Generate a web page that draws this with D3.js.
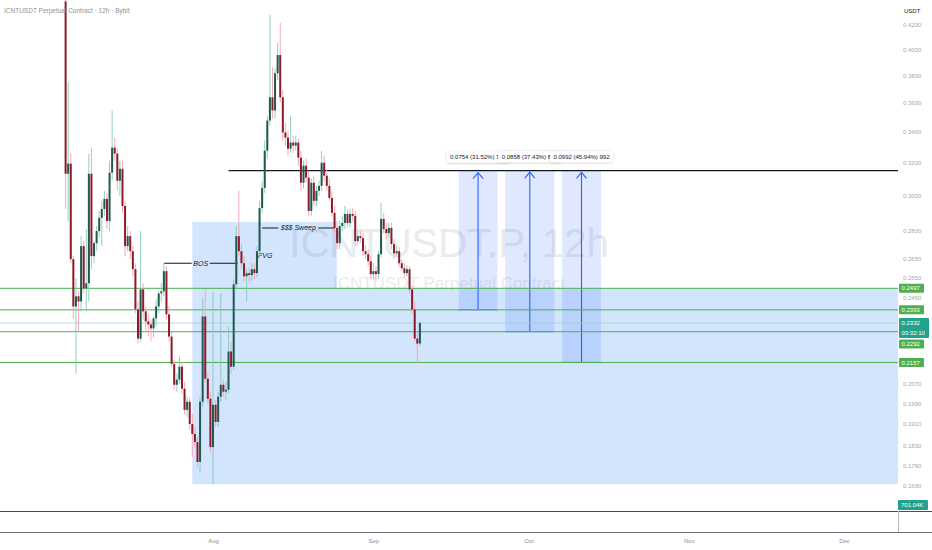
<!DOCTYPE html>
<html lang="en">
<head>
<meta charset="UTF-8">
<title>ICNTUSDT.P 12h</title>
<style>
  body { margin: 0; background: #fff; }
  svg { display: block; font-family: "Liberation Sans", Arial, sans-serif; }
</style>
</head>
<body>
<svg id="chart" width="932" height="550"></svg>
<script src="https://d3js.org/d3.v7.min.js"></script>
<script>
// 12h candles, first one opens 2025-07-03 12:00 UTC, one per half day
const firstCandle = "2025-07-03T12:00:00Z";

const opens = [
  .4400, .3131, .3194, .2645, .2409, .2458, .2433, .2714, .2497, .2522,
  .3131, .2661, .2730, .2796, .2870, .2921, .2979, .2852, .3138, .3297,
  .3258, .3088, .3162, .2938, .2714, .2768, .2687, .2593, .2395, .2261,
  .2492, .2386, .2339, .2325, .2307, .2353, .2409, .2472, .2482, .2583,
  .2372, .2270, .2151, .2064, .2085, .2139, .2048, .1964, .1996, .1910,
  .1873, .1843, .1772, .1996, .2362, .2089, .2008, .1825, .1984, .1918,
  .2016, .2064, .2036, .2044, .2204, .2139, .2517, .2768, .2687, .2624,
  .2557, .2573, .2563, .2593, .2573, .2687, .2926, .3045, .3277, .3478,
  .3641, .3548, .3818, .3958, .3641, .3397, .3363, .3290, .3330, .3310,
  .3330, .3232, .3076, .3181, .3107, .2909, .3076, .2968, .3027, .3057,
  .3200, .3119, .3057, .2985, .2898, .2813, .2730, .2824, .2841, .2892,
  .2841, .2892, .2881, .2741, .2768, .2757, .2687, .2671, .2634, .2568,
  .2583, .2568, .2671, .2864, .2807, .2785, .2813, .2725, .2676, .2687,
  .2624, .2598, .2573, .2593, .2492, .2395, .2261, .2239
];
const highs = [
  .4650, .3751, .3258, .2661, .2547, .2482, .2768, .2741, .2807, .3258,
  .3297, .2741, .2824, .2909, .2968, .3027, .3015, .3213, .3548, .3363,
  .3290, .3213, .3213, .2968, .2824, .2796, .2714, .2624, .2433, .2796,
  .2522, .2409, .2377, .2348, .2362, .2443, .2482, .2522, .2624, .2608,
  .2409, .2293, .2169, .2110, .2182, .2160, .2076, .2016, .2012, .1948,
  .1899, .1862, .2016, .2448, .2492, .2118, .2036, .2482, .2004, .2036,
  .2472, .2085, .2076, .2316, .2248, .2542, .2824, .3027, .2725, .2661,
  .2593, .2603, .2624, .2624, .2714, .2968, .3088, .3343, .3513, .4284,
  .3865, .3857, .4053, .4217, .3692, .3464, .3410, .3513, .3376, .3376,
  .3356, .3277, .3213, .3226, .3150, .3101, .3119, .3057, .3088, .3277,
  .3245, .3162, .3101, .3027, .2938, .2852, .2852, .2881, .2938, .2921,
  .2921, .2926, .2909, .2807, .2796, .2785, .2719, .2698, .2661, .2624,
  .2608, .2687, .2956, .2898, .2841, .2841, .2841, .2752, .2719, .2709,
  .2645, .2624, .2613, .2608, .2512, .2433, .2293, .2339
];
const lows = [
  .2921, .2852, .2624, .2353, .2110, .2293, .2386, .2472, .2386, .2433,
  .2593, .2624, .2687, .2763, .2714, .2881, .2807, .2796, .3088, .3213,
  .3027, .2997, .2898, .2661, .2687, .2645, .2557, .2377, .2239, .2248,
  .2348, .2293, .2270, .2248, .2266, .2316, .2377, .2433, .2458, .2348,
  .2248, .2139, .2044, .2036, .2068, .2028, .1948, .1937, .1888, .1789,
  .1825, .1754, .1737, .1976, .2076, .1988, .1807, .1696, .1899, .1899,
  .1996, .2016, .2004, .2028, .2110, .2126, .2497, .2661, .2593, .2532,
  .2433, .2522, .2532, .2542, .2552, .2661, .2898, .3015, .3226, .3444,
  .3492, .3492, .3766, .3605, .3343, .3310, .3245, .3264, .3264, .3277,
  .3181, .3027, .3039, .3076, .2881, .2881, .2938, .2938, .2997, .3027,
  .3088, .3027, .2968, .2875, .2785, .2698, .2698, .2796, .2807, .2818,
  .2818, .2852, .2714, .2719, .2730, .2661, .2645, .2608, .2542, .2542,
  .2532, .2542, .2656, .2785, .2752, .2763, .2698, .2645, .2656, .2603,
  .2583, .2552, .2557, .2472, .2377, .2248, .2157, .2226
];
const closes = [
  .3131, .3194, .2645, .2409, .2458, .2433, .2714, .2497, .2522, .3131,
  .2661, .2730, .2796, .2870, .2921, .2979, .2852, .3138, .3297, .3258,
  .3088, .3162, .2938, .2714, .2768, .2687, .2593, .2395, .2261, .2492,
  .2386, .2339, .2325, .2307, .2353, .2409, .2472, .2482, .2583, .2372,
  .2270, .2151, .2064, .2085, .2139, .2048, .1964, .1996, .1910, .1873,
  .1843, .1772, .1996, .2362, .2089, .2008, .1825, .1984, .1918, .2016,
  .2064, .2036, .2044, .2204, .2139, .2517, .2768, .2687, .2624, .2557,
  .2573, .2563, .2593, .2573, .2687, .2926, .3045, .3277, .3478, .3641,
  .3548, .3818, .3958, .3641, .3397, .3363, .3290, .3330, .3310, .3330,
  .3232, .3076, .3181, .3107, .2909, .3076, .2968, .3027, .3057, .3200,
  .3119, .3057, .2985, .2898, .2813, .2730, .2824, .2841, .2892, .2841,
  .2892, .2881, .2741, .2768, .2757, .2687, .2671, .2634, .2568, .2583,
  .2568, .2671, .2864, .2807, .2785, .2813, .2725, .2676, .2687, .2624,
  .2598, .2573, .2593, .2492, .2395, .2261, .2239, .2332
];

// price axis and time axis labels
const priceTicks = [0.42, 0.40, 0.38, 0.36, 0.34, 0.32, 0.30, 0.28, 0.265, 0.255, 0.245,
                    0.207, 0.199, 0.191, 0.183, 0.176, 0.169];
const monthTicks = ["2025-08-01", "2025-09-01", "2025-10-01", "2025-11-01", "2025-12-01"];

// horizontal levels (green), last price, volume
const levelPrices = [0.2497, 0.2393, 0.2292, 0.2157];
const lastPrice = 0.2332;
const countdown = "03:32:10";
const lastVolume = "701.04K";

// target line
const targetPrice = 0.315;
const targetStart = "2025-08-04T00:00:00Z";

// blue zone (two parts)
const zoneStarts = ["2025-07-28T00:00:00Z", "2025-08-24T22:00:00Z"];
const zoneEnds = ["2025-08-24T22:00:00Z", "2025-12-20T00:00:00Z"];
const zoneTops = [0.2846, 0.2497];
const zoneBottoms = [0.1696, 0.1696];

// price range measurements
const rangeStarts = ["2025-09-17T12:00:00Z", "2025-09-26T12:00:00Z", "2025-10-07T12:00:00Z"];
const rangeEnds = ["2025-09-25T00:00:00Z", "2025-10-06T00:00:00Z", "2025-10-15T00:00:00Z"];
const rangeLows = [0.2393, 0.2292, 0.2157];
const rangeHighs = [0.3147, 0.3150, 0.3149];
const rangeLabels = ["0.0754 (31.52%) 754", "0.0858 (37.43%) 858", "0.0992 (45.94%) 992"];

// drawn notes
const bosLine = { from: "2025-07-22T12:00:00Z", to: "2025-08-05T18:00:00Z", price: 0.2624, text: "BOS" };
const sweepLine = { from: "2025-08-10T12:00:00Z", to: "2025-08-24T12:00:00Z", price: 0.2813, text: "$$$ Sweep" };
const fvgNote = { at: "2025-08-09T17:00:00Z", price: 0.2666, text: "FVG" };

const plotRight = 898, plotBottom = 511, timeAxisTop = 532;
const upBody = "#1f5a4d", upWick = "#86c9b9", downBody = "#8c1c2c", downWick = "#f3a2b0";

const svg = d3.select("#chart");

const x = d3.scaleUtc()
  .domain([new Date("2025-08-01T00:00:00Z"), new Date("2025-12-01T00:00:00Z")])
  .range([213, 844]);
const y = d3.scaleLog().domain([0.169, 0.42]).range([486, 25]);

const t0 = Date.parse(firstCandle);
const candles = closes.map((c, i) => ({
  t: new Date(t0 + i * 12 * 3600 * 1000), o: opens[i], h: highs[i], l: lows[i], c
}));

const defs = svg.append("defs");
defs.append("clipPath").attr("id", "plotClip")
  .append("rect").attr("x", 0).attr("y", 0).attr("width", plotRight).attr("height", plotBottom);
defs.append("filter").attr("id", "shadow").attr("x", "-20%").attr("y", "-40%").attr("width", "140%").attr("height", "180%")
  .append("feDropShadow").attr("dx", 0).attr("dy", 0.5).attr("stdDeviation", 1)
  .attr("flood-color", "#000").attr("flood-opacity", 0.25);

const plot = svg.append("g").attr("clip-path", "url(#plotClip)");

// watermark
plot.append("text").attr("x", 449).attr("y", 257).attr("text-anchor", "middle")
  .attr("font-size", 40).attr("fill", "#eaebee").text("ICNTUSDT.P, 12h");
plot.append("text").attr("x", 449).attr("y", 289).attr("text-anchor", "middle")
  .attr("font-size", 17).attr("fill", "#eaebee").text("ICNTUSDT Perpetual Contract");

// blue zone
plot.selectAll("rect.zone").data(zoneStarts).join("rect").attr("class", "zone")
  .attr("x", (d, i) => x(new Date(d)))
  .attr("y", (d, i) => y(zoneTops[i]))
  .attr("width", (d, i) => x(new Date(zoneEnds[i])) - x(new Date(d)))
  .attr("height", (d, i) => y(zoneBottoms[i]) - y(zoneTops[i]))
  .attr("fill", "#2178f3").attr("fill-opacity", 0.2);

// price range boxes
const ranges = rangeStarts.map((s, i) => ({
  x0: x(new Date(s)), x1: x(new Date(rangeEnds[i])), lo: rangeLows[i], hi: rangeHighs[i], label: rangeLabels[i]
}));
const rg = plot.selectAll("g.range").data(ranges).join("g").attr("class", "range");
rg.append("rect")
  .attr("x", d => d.x0).attr("y", d => y(d.hi))
  .attr("width", d => d.x1 - d.x0).attr("height", d => y(d.lo) - y(d.hi))
  .attr("fill", "#2962ff").attr("fill-opacity", 0.15);
rg.append("line")
  .attr("x1", d => d.x0).attr("x2", d => d.x1)
  .attr("y1", d => y(d.lo)).attr("y2", d => y(d.lo))
  .attr("stroke", "#2962ff").attr("stroke-opacity", 0.7);
rg.append("line")
  .attr("x1", d => (d.x0 + d.x1) / 2).attr("x2", d => (d.x0 + d.x1) / 2)
  .attr("y1", d => y(d.lo)).attr("y2", d => y(d.hi) + 1.5)
  .attr("stroke", "#2962ff").attr("stroke-width", 1.1);
rg.append("path")
  .attr("d", d => {
    const cx = (d.x0 + d.x1) / 2, ty = y(d.hi) + 1.5;
    return `M${cx - 5},${ty + 6}L${cx},${ty}L${cx + 5},${ty + 6}`;
  })
  .attr("fill", "none").attr("stroke", "#2962ff").attr("stroke-width", 1.1);

// green levels
plot.selectAll("line.level").data(levelPrices).join("line").attr("class", "level")
  .attr("x1", 0).attr("x2", plotRight)
  .attr("y1", d => y(d)).attr("y2", d => y(d))
  .attr("stroke", "#4caf50").attr("stroke-width", 1);

// last price line
plot.append("line").attr("x1", 0).attr("x2", plotRight)
  .attr("y1", y(lastPrice)).attr("y2", y(lastPrice))
  .attr("stroke", "#9fd6cb").attr("stroke-width", 1).attr("stroke-opacity", 0.8);

// target line
plot.append("line").attr("x1", x(new Date(targetStart))).attr("x2", plotRight)
  .attr("y1", y(targetPrice)).attr("y2", y(targetPrice))
  .attr("stroke", "#131722").attr("stroke-width", 1.2);

// BOS and sweep lines with text in the gap
function noteLine(n, gap) {
  const x1 = x(new Date(n.from)), x2 = x(new Date(n.to)), yy = y(n.price), mid = (x1 + x2) / 2;
  plot.append("path").attr("d", `M${x1},${yy}H${mid - gap}M${mid + gap},${yy}H${x2}`)
    .attr("stroke", "#131722").attr("stroke-width", 1.1);
  plot.append("text").attr("x", mid).attr("y", yy).attr("dy", "0.35em")
    .attr("text-anchor", "middle").attr("font-size", 7).attr("font-style", "italic")
    .attr("fill", "#131722").text(n.text);
}
noteLine(bosLine, 9);
noteLine(sweepLine, 20);
plot.append("text").attr("x", x(new Date(fvgNote.at))).attr("y", y(fvgNote.price)).attr("dy", "0.35em")
  .attr("font-size", 7).attr("font-style", "italic").attr("fill", "#131722").text(fvgNote.text);

// candles
const cg = plot.selectAll("g.candle").data(candles).join("g").attr("class", "candle");
cg.append("line")
  .attr("x1", d => x(d.t)).attr("x2", d => x(d.t))
  .attr("y1", d => y(d.h)).attr("y2", d => y(d.l))
  .attr("stroke", d => d.c >= d.o ? upWick : downWick).attr("stroke-width", 0.9);
cg.append("rect")
  .attr("x", d => x(d.t) - 1).attr("width", 2)
  .attr("y", d => y(Math.max(d.o, d.c)))
  .attr("height", d => Math.max(1, Math.abs(y(d.o) - y(d.c))))
  .attr("fill", d => d.c >= d.o ? upBody : downBody);

// price range labels
const lg = plot.selectAll("g.rlabel").data(ranges).join("g").attr("class", "rlabel");
lg.append("rect")
  .attr("x", d => (d.x0 + d.x1) / 2 - 31.5).attr("y", d => y(d.hi) - 19.5)
  .attr("width", 63).attr("height", 11).attr("rx", 2)
  .attr("fill", "#fff").attr("filter", "url(#shadow)");
lg.append("text")
  .attr("x", d => (d.x0 + d.x1) / 2).attr("y", d => y(d.hi) - 14)
  .attr("dy", "0.35em").attr("text-anchor", "middle")
  .attr("font-size", 6).attr("fill", "#131722").text(d => d.label);

// right price axis
svg.append("g").attr("transform", `translate(${plotRight},0)`)
  .call(d3.axisRight(y).tickValues(priceTicks).tickFormat(d3.format(".4f")).tickSize(0).tickPadding(5))
  .attr("font-size", 6).attr("font-family", "Liberation Sans, Arial, sans-serif")
  .call(g => g.select(".domain").remove())
  .call(g => g.selectAll("text").attr("fill", "#a3a6af"));

// price labels on the axis
const curY = y(lastPrice), curTop = curY - 5, curBottom = curY + 15;
levelPrices.forEach(p => {
  let cy = y(p);
  if (cy + 4.5 > curTop && cy - 4.5 < curBottom) cy = curBottom + 1.5 + 4.5;
  svg.append("rect").attr("x", plotRight + 1).attr("y", cy - 4.5).attr("width", 25).attr("height", 9)
    .attr("rx", 1).attr("fill", "#4caf50");
  svg.append("text").attr("x", plotRight + 3.5).attr("y", cy).attr("dy", "0.35em")
    .attr("font-size", 6).attr("fill", "#fff").text(d3.format(".4f")(p));
});
svg.append("rect").attr("x", plotRight + 1).attr("y", curTop).attr("width", 30).attr("height", curBottom - curTop)
  .attr("rx", 1).attr("fill", "#22a28c");
svg.append("text").attr("x", plotRight + 3.5).attr("y", curY).attr("dy", "0.35em")
  .attr("font-size", 6).attr("fill", "#fff").text(d3.format(".4f")(lastPrice));
svg.append("text").attr("x", plotRight + 3.5).attr("y", curY + 10).attr("dy", "0.35em")
  .attr("font-size", 6).attr("fill", "#fff").text(countdown);

// volume label
svg.append("rect").attr("x", plotRight).attr("y", 500).attr("width", 30).attr("height", 10)
  .attr("rx", 1).attr("fill", "#22a28c");
svg.append("text").attr("x", plotRight + 3).attr("y", 505).attr("dy", "0.35em")
  .attr("font-size", 6).attr("fill", "#fff").text(lastVolume);

// pane borders
svg.append("line").attr("x1", 0).attr("x2", 932).attr("y1", plotBottom + 0.5).attr("y2", plotBottom + 0.5)
  .attr("stroke", "#4a4d57");
svg.append("line").attr("x1", 0).attr("x2", 932).attr("y1", timeAxisTop + 0.5).attr("y2", timeAxisTop + 0.5)
  .attr("stroke", "#6f727c");
svg.append("line").attr("x1", plotRight + 0.5).attr("x2", plotRight + 0.5)
  .attr("y1", plotBottom).attr("y2", timeAxisTop).attr("stroke", "#b2b5be");

// time axis
svg.append("g").attr("transform", `translate(0,${timeAxisTop})`)
  .call(d3.axisBottom(x).tickValues(monthTicks.map(d => new Date(d + "T00:00:00Z")))
    .tickFormat(d3.utcFormat("%b")).tickSize(0).tickPadding(7))
  .attr("font-size", 6).attr("font-family", "Liberation Sans, Arial, sans-serif")
  .call(g => g.select(".domain").remove())
  .call(g => g.selectAll("text").attr("fill", "#8d909a"));

// title and currency
svg.append("text").attr("x", 4).attr("y", 13).attr("font-size", 6.5).attr("fill", "#8d909a")
  .text("ICNTUSDT Perpetual Contract · 12h · Bybit");
svg.append("text").attr("x", 904).attr("y", 13).attr("font-size", 6).attr("fill", "#131722").text("USDT");
</script>
</body>
</html>
